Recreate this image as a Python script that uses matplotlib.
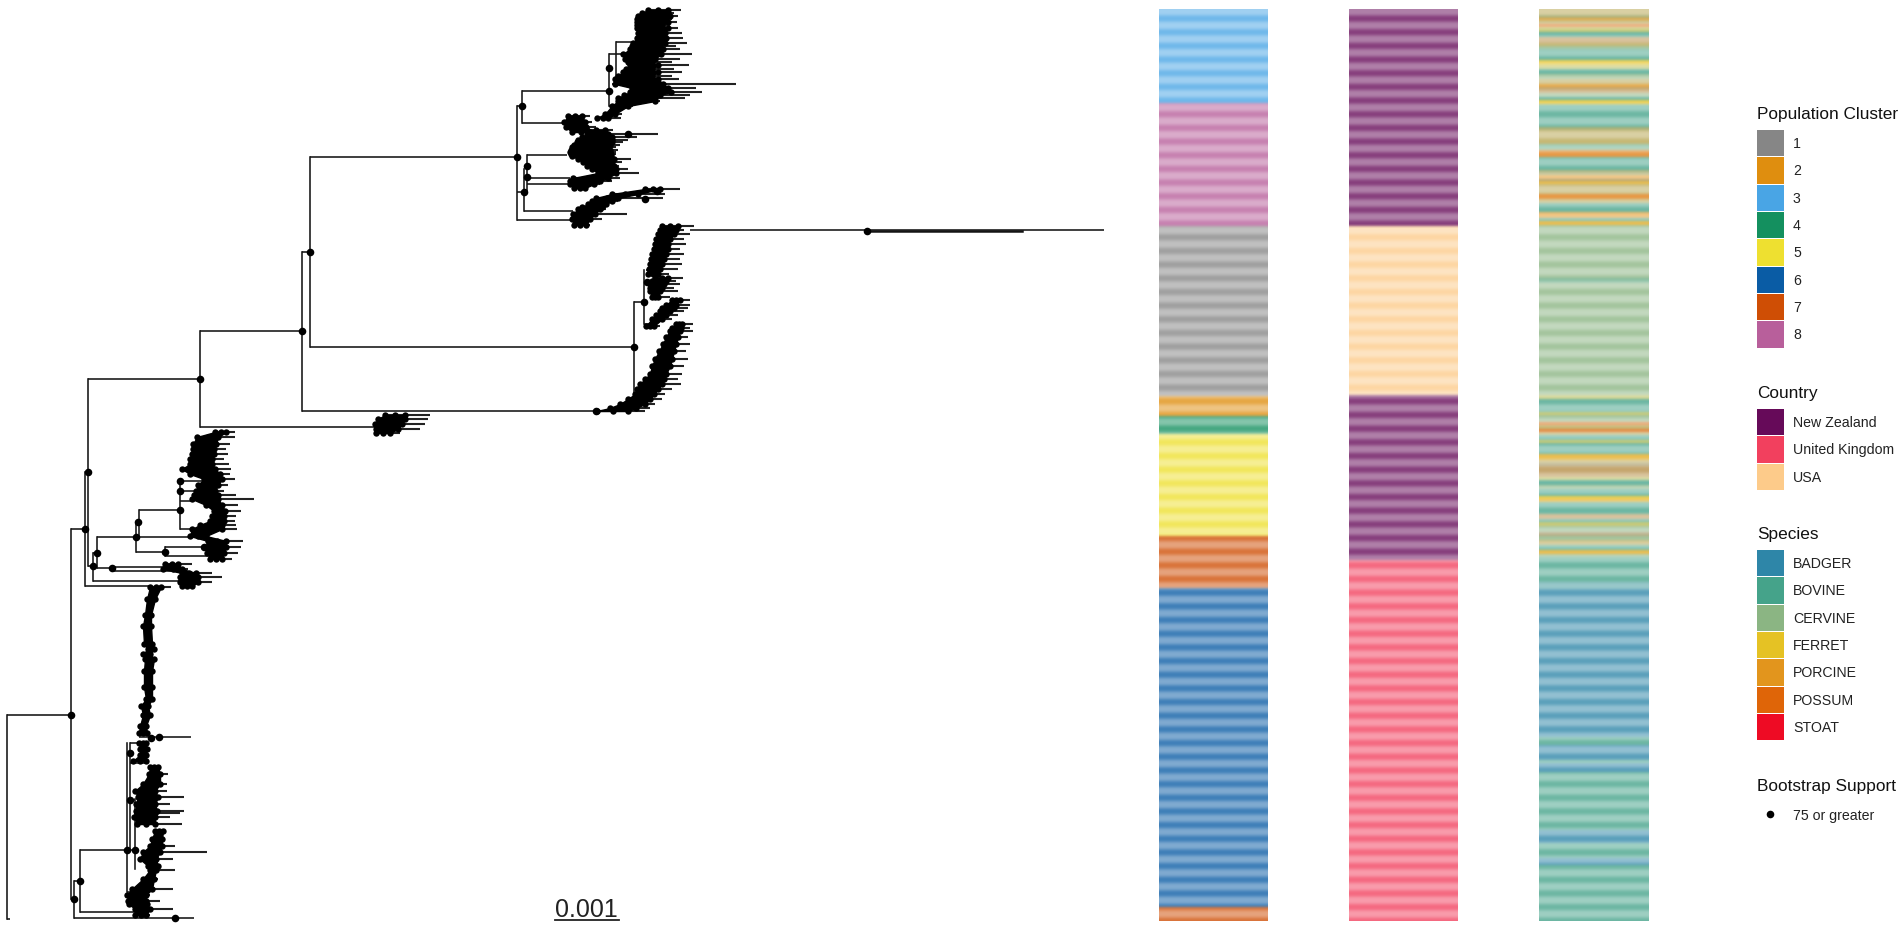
import numpy as np
from matplotlib import pyplot as plt
from matplotlib.patches import Rectangle

plt.rcParams['font.family'] = ['Liberation Sans', 'DejaVu Sans']

# Tree, in picture units (x grows with distance, y goes down)
H_BRANCHES = [
    (716, 7, 71), (530, 71, 85), (473, 85, 88), (380, 88, 200), (332, 200, 302),
    (428, 200, 376), (412, 302, 595), (253, 302, 310), (347.5, 310, 634),
    (303, 634, 644), (412, 634, 640), (157.7, 310, 517), (221, 517, 572),
    (107, 517, 522), (91.7, 522, 608), (123.7, 522, 566), (156, 527, 567),
    (179, 527, 570), (185, 527, 570), (212, 524, 573), (193, 517, 524),
    (231, 690, 1104), (567, 88, 92.6), (582, 92.6, 182), (554, 92.6, 97),
    (538, 97, 192), (569, 97, 112), (568, 112, 165), (572, 112, 181),
    (552.7, 136, 165), (548, 165, 204), (557, 165, 208), (523, 136, 139),
    (511, 139, 180), (530, 180, 192), (482, 180, 204), (492, 180, 204),
    (502, 180, 192), (587, 85, 150), (900, 71, 74), (919, 74, 194),
    (882, 74, 80), (913, 80, 139), (851, 80, 127), (851, 127, 135),
    (744, 130, 139), (738, 139, 191), (764, 130, 148), (893, 127, 132),
    (801, 130, 135), (920, 7, 10), (271, 646, 656), (283, 646, 650),
    (325, 644, 650), (55, 609, 625), (43, 616, 640), (85, 612, 618),
    (107, 609, 612),
]
V_BRANCHES = [
    (7, 716, 920), (71, 530, 900), (85, 473, 587), (88, 380, 567), (200, 332, 428),
    (302, 253, 412), (310, 157.7, 347.5), (634, 303, 412), (644, 271, 325),
    (517, 107, 221), (522, 91.7, 123.7), (527, 156, 193), (524, 170, 212),
    (92.6, 554, 582), (97, 538, 569), (112, 568, 572), (136, 523, 552.7),
    (165, 548, 557), (139, 511, 538), (180, 482, 530), (74, 882, 919),
    (80, 851, 913), (127, 744, 893), (130, 744, 851), (135, 800, 870),
    (609, 55, 107), (616, 43, 85),
]
NODES = [
    (71, 716), (85, 530), (88, 473), (200, 380), (302, 332), (310, 253),
    (517, 157.7), (522, 107), (527, 167), (527, 178), (524, 193), (634, 347.5),
    (644, 303), (647, 283), (867, 232), (596, 412), (92.6, 567), (97, 554),
    (112, 569), (136, 538), (138, 523), (165, 552.7), (180, 511), (180, 492),
    (180, 482), (204, 548), (74, 900), (80, 882), (175, 919), (127, 851),
    (135, 851), (130, 754), (130, 801), (151, 739), (159, 738), (609, 91.7),
    (609, 69), (628, 135), (657, 192), (645, 200),
]

# Clades: y, body left, body right, tip end
CLADE_TOP = [
    (11, 648, 668, 681), (14, 642, 668, 674), (17, 638, 670, 678), (20, 637, 666, 672),
    (23, 637, 668, 677), (26, 637, 662, 670), (29, 637, 668, 678), (34, 638, 665, 682),
    (39, 637, 666, 683), (44, 633, 665, 687), (47, 632, 660, 676), (50, 630, 663, 680),
    (55, 623, 661, 692), (60, 625, 655, 680), (63, 628, 652, 672), (66, 630, 658, 689),
    (70, 626, 652, 674), (73, 623, 658, 682), (77, 618, 652, 672), (80, 615, 658, 679),
    (85, 615, 663, 736), (89, 632, 668, 696), (93, 630, 671, 702), (96, 624, 660, 690),
    (99, 618, 655, 685), (102, 618, 655, 660), (107, 612, 628, 633), (115, 605, 615, 622),
    (119, 597, 608, 621),
]
CLADE_SMALL_A = [
    (117, 568, 582, 590), (123, 564, 585, 592), (128, 566, 586, 596), (133, 572, 590, 600),
]
CLADE_MID_A = [
    (131, 587, 605, 613), (135, 587, 608, 658), (138, 582, 612, 637), (141, 578, 612, 628),
    (143, 577, 612, 623), (146, 574, 610, 620), (148, 572, 608, 616), (151, 571, 610, 618),
    (153, 570, 610, 616), (155, 571, 611, 616), (157, 572, 611, 613), (160, 578, 614, 631),
    (163, 583, 612, 622), (167, 587, 614, 619), (170, 592, 616, 628), (174, 598, 616, 639),
    (179, 573, 608, 620), (182, 570, 600, 612), (185, 570, 594, 600), (189, 574, 585, 588),
]
CLADE_MID_B = [
    (190, 645, 660, 680), (195, 612, 638, 665), (199, 596, 618, 663), (202, 592, 612, 618),
    (205, 588, 606, 608), (208, 582, 602, 606), (210, 578, 600, 606), (215, 573, 595, 627),
    (220, 572, 590, 602), (226, 574, 586, 590),
]
CLADE_LONG_A = [
    (227, 662, 678, 694), (231, 660, 676, 684), (235, 658, 674, 690), (240, 656, 670, 684),
    (245, 655, 668, 686), (250, 654, 668, 680), (255, 652, 666, 684), (260, 651, 664, 680),
    (265, 650, 662, 682), (270, 649, 660, 678), (275, 648, 658, 669),
]
CLADE_LONG_B = [
    (279, 655, 668, 683), (282, 652, 666, 676), (285, 650, 664, 680), (289, 650, 662, 674),
    (292, 650, 660, 678), (298, 652, 658, 670),
]
CLADE_LONG_C = [
    (301, 672, 680, 690), (306, 666, 676, 690), (309, 662, 674, 688), (312, 660, 670, 684),
    (316, 656, 666, 678), (320, 652, 662, 672), (327, 646, 654, 660),
]
CLADE_LONG_D = [
    (325, 676, 682, 693), (329, 672, 681, 690), (332, 670, 680, 693), (338, 666, 678, 688),
    (345, 663, 676, 690), (352, 659, 674, 686), (360, 655, 672, 688), (367, 652, 670, 684),
    (375, 650, 666, 682), (380, 645, 664, 678), (385, 640, 662, 681), (390, 637, 658, 672),
    (395, 635, 654, 665), (400, 628, 650, 662), (405, 620, 645, 655), (409, 610, 636, 650),
    (412, 597, 628, 645),
]
CLADE_SMALL_B = [
    (416, 385, 405, 430), (420, 378, 405, 428), (425, 375, 402, 425), (430, 376, 398, 420),
    (434, 376, 390, 400),
]
CLADE_LEFT_A = [
    (433, 215, 226, 235), (438, 197, 218, 235), (445, 193, 216, 230), (450, 193, 214, 226),
    (455, 192, 214, 228), (460, 190, 212, 224), (465, 190, 212, 229), (470, 182, 215, 231),
    (475, 190, 220, 230), (480, 204, 222, 235), (486, 198, 218, 228), (492, 196, 215, 224),
    (496, 194, 218, 236), (500, 192, 218, 254), (506, 206, 222, 238), (512, 214, 225, 241),
    (517, 212, 224, 236), (522, 210, 224, 235), (526, 200, 222, 236), (530, 192, 222, 237),
    (537, 190, 206, 208), (542, 208, 226, 243), (548, 205, 226, 241), (554, 207, 224, 238),
    (560, 210, 222, 232),
]
CLADE_LEFT_B = [
    (565, 165, 178, 192), (570, 163, 182, 188), (574, 182, 196, 212), (578, 180, 198, 222),
    (583, 180, 198, 212), (587, 182, 192, 195),
]
CLADE_SPINE = [
    (588, 150, 161, 171), (600, 147, 155, 157), (616, 145, 151, 152), (627, 143, 151, 152),
    (645, 144, 152, 153), (650, 148, 154, 155), (655, 143, 150, 151), (660, 145, 154, 154),
    (672, 144, 152, 154), (688, 144, 152, 153), (700, 146, 152, 153), (707, 141, 148, 150),
    (716, 143, 150, 151), (727, 140, 146, 148), (734, 139, 147, 148),
]
CLADE_SHORT = [
    (744, 139, 146, 148), (750, 140, 147, 149), (756, 140, 146, 148), (762, 133, 146, 148),
]
CLADE_LOWER_A = [
    (768, 150, 158, 160), (775, 149, 160, 168), (785, 143, 160, 167), (792, 135, 155, 167),
    (798, 138, 158, 184), (805, 136, 155, 170), (812, 136, 157, 184), (814, 137, 155, 180),
    (818, 134, 155, 170), (825, 137, 155, 182),
]
CLADE_LOWER_B = [
    (832, 155, 163, 166), (840, 152, 162, 165), (847, 150, 162, 175), (853, 143, 160, 207),
    (860, 140, 156, 173), (867, 148, 158, 160), (871, 150, 156, 175), (880, 143, 154, 158),
    (890, 132, 152, 173), (896, 127, 146, 150), (902, 128, 146, 160), (905, 129, 147, 150),
    (910, 135, 150, 173), (916, 135, 146, 150),
]
CLADES = [
    CLADE_TOP, CLADE_SMALL_A, CLADE_MID_A, CLADE_MID_B, CLADE_LONG_A, CLADE_LONG_B,
    CLADE_LONG_C, CLADE_LONG_D, CLADE_SMALL_B, CLADE_LEFT_A, CLADE_LEFT_B, CLADE_SPINE,
    CLADE_SHORT, CLADE_LOWER_A, CLADE_LOWER_B,
]

# Annotation strips: (category, end of the block)
STRIP_TOP = 9
STRIP_BOTTOM = 921
CLUSTER_BLOCKS = [
    ('3', 103), ('8', 226), ('1', 396), ('2', 416), ('4', 433.5), ('5', 535.5),
    ('7', 588), ('6', 907), ('7', 921),
]
COUNTRY_BLOCKS = [('NZ', 226), ('USA', 395), ('NZ', 560), ('UK', 921)]
# two letters mean rows too thin to tell apart
SPECIES_BLOCKS = [
    ('PC', 15), ('VP', 17.7), ('P', 20), ('PC', 23.3), ('O', 26.7), ('FC', 28.3), ('CF', 31.7),
    ('V', 36.7), ('CO', 42.3), ('CP', 45.7), ('C', 48.3), ('V', 60), ('F', 64.3), ('FC', 68.3),
    ('V', 73.3), ('C', 78.3), ('PC', 83.3), ('P', 86.7), ('CO', 92.3), ('C', 96.7), ('V', 99.3),
    ('F', 103.3), ('C', 105), ('V', 126.7), ('VP', 130), ('PC', 136.7), ('CP', 143.3),
    ('VC', 150), ('OP', 156.7), ('V', 170), ('VP', 175), ('P', 178.3), ('VO', 181), ('FP', 183.3),
    ('PC', 193.3), ('OP', 198.3), ('PC', 202.3), ('V', 211.7), ('P', 217.7), ('V', 221),
    ('FP', 224.3), ('C', 278), ('VC', 283), ('C', 394.3), ('CF', 398.3), ('V', 411.7), ('CF', 415),
    ('C', 421.7), ('O', 425), ('PC', 428.3), ('O', 431.7), ('PC', 435), ('V', 440), ('FC', 442.7),
    ('V', 453.3), ('FP', 459.3), ('PC', 462.7), ('OV', 466), ('CO', 476.7), ('CF', 480), ('V', 485),
    ('C', 488.3), ('V', 496), ('F', 498.3), ('FP', 501.7), ('V', 513.3), ('CO', 518.3), ('V', 521.7),
    ('FC', 525.7), ('C', 531.7), ('VO', 535.7), ('C', 540), ('PC', 545), ('V', 550), ('FP', 554),
    ('C', 556.7), ('V', 582), ('VB', 589), ('B', 736.7), ('V', 745), ('B', 760), ('V', 763),
    ('B', 772), ('V', 830), ('B', 843), ('V', 858), ('B', 865), ('V', 921),
]

CLUSTER_LABELS = ['1', '2', '3', '4', '5', '6', '7', '8']
CLUSTER_COLORS = ['#868686', '#DF8E0F', '#49A5E5', '#14905F', '#EEE030', '#0A5CA5', '#CF4E05', '#B85F9B']
COUNTRY_LABELS = ['New Zealand', 'United Kingdom', 'USA']
COUNTRY_KEYS = ['NZ', 'UK', 'USA']
COUNTRY_COLORS = ['#660A59', '#F2405E', '#FDCB8A']
SPECIES_LABELS = ['BADGER', 'BOVINE', 'CERVINE', 'FERRET', 'PORCINE', 'POSSUM', 'STOAT']
SPECIES_KEYS = ['B', 'V', 'C', 'F', 'P', 'O', 'S']
SPECIES_COLORS = ['#2E86A8', '#45A38A', '#8BB583', '#E5C224', '#E2951D', '#DF6508', '#EE0B24']


def to_rgb(c):
    return np.array([int(c[i:i+2], 16) / 255 for i in (1, 3, 5)])


def strip_image(blocks, palette):
    # one row per pixel, with the banding the printed strips show
    rows = np.arange(STRIP_TOP, STRIP_BOTTOM)
    img = np.ones((len(rows), 1, 3))
    start = STRIP_TOP
    for key, end in blocks:
        parts = [to_rgb(palette[k]) for k in ([key] if key in palette else list(key))]
        img[(rows >= start) & (rows < end), 0] = np.mean(parts, axis=0)
        start = end
    phase = (rows - 31.7) % 13.67 / 13.67
    a = np.interp(phase, [0, .14, .34, .66, .86, 1], [.8, .76, .52, .52, .76, .8])[:, None, None]
    img = a * img + (1 - a)
    kernel = np.array([1, 2, 3, 2, 1]) / 9
    pad = np.concatenate([img[:1], img[:1], img, img[-1:], img[-1:]])
    for i in range(3):
        img[:, 0, i] = np.convolve(pad[:, 0, i], kernel, mode='valid')
    return img


fig = plt.figure(figsize=(19.02, 9.28), dpi=100)
ax = fig.add_axes([0, 0, 1, 1])
ink = '#141414'

for y, x0, x1 in H_BRANCHES:
    ax.plot([x0, x1], [y, y], color=ink, lw=1.15, solid_capstyle='butt', zorder=2)
for x, y0, y1 in V_BRANCHES:
    ax.plot([x, x], [y0, y1], color=ink, lw=1.15, solid_capstyle='projecting', zorder=2)
ax.plot([867, 1022], [232, 232], color=ink, lw=1.8, zorder=2)

for clade in CLADES:
    ys, lefts, bodies, tips = zip(*clade)
    ax.fill_betweenx(ys, lefts, bodies, color='black', lw=1, zorder=3)
    for y, left, body, tip in clade:
        ax.plot([left, tip], [y, y], color='#222222', lw=1.5, solid_capstyle='butt', zorder=2)
        ax.plot([left, (left + body) / 2, body], [y, y, y], 'o', color='black', ms=4.6, mew=0, zorder=4)

nx, ny = zip(*NODES)
ax.scatter(nx, ny, s=30, color='black', linewidths=0, zorder=5)

# scale bar
ax.text(586.5, 917, '0.001', fontsize=18, ha='center', va='baseline', color='#222222')
ax.plot([555, 619], [921, 921], color='#222222', lw=1.3)

# strips
cluster_palette = dict(zip(CLUSTER_LABELS, CLUSTER_COLORS))
country_palette = dict(zip(COUNTRY_KEYS, COUNTRY_COLORS))
species_palette = dict(zip(SPECIES_KEYS, SPECIES_COLORS))
ax.imshow(strip_image(CLUSTER_BLOCKS, cluster_palette), extent=(1159, 1268, STRIP_BOTTOM + 1, STRIP_TOP + 1),
          aspect='auto', interpolation='bilinear', zorder=1)
ax.imshow(strip_image(COUNTRY_BLOCKS, country_palette), extent=(1349, 1458, STRIP_BOTTOM + 1, STRIP_TOP + 1),
          aspect='auto', interpolation='bilinear', zorder=1)
ax.imshow(strip_image(SPECIES_BLOCKS, species_palette), extent=(1539, 1649, STRIP_BOTTOM + 1, STRIP_TOP + 1),
          aspect='auto', interpolation='bilinear', zorder=1)


# legends
def legend_block(title, title_y, top, labels, colors):
    ax.text(1757, title_y, title, fontsize=12.4, va='center', ha='left', color='#111111')
    for i, (lab, col) in enumerate(zip(labels, colors)):
        y = top + i * 27.35
        ax.add_patch(Rectangle((1757, y + 0.5), 26.5, 26.3, facecolor=col, edgecolor='none'))
        ax.text(1793, y + 13.5, lab, fontsize=10.2, va='center', ha='left', color='#222222')


legend_block('Population Cluster', 114.5, 130.5, CLUSTER_LABELS, CLUSTER_COLORS)
legend_block('Country', 393.5, 409.5, COUNTRY_LABELS, COUNTRY_COLORS)
legend_block('Species', 534.5, 550.5, SPECIES_LABELS, SPECIES_COLORS)
ax.text(1757, 786.5, 'Bootstrap Support', fontsize=12.4, va='center', ha='left', color='#111111')
ax.scatter([1770], [815], s=30, color='black', linewidths=0)
ax.text(1793, 816, '75 or greater', fontsize=10.2, va='center', ha='left', color='#222222')

ax.set_xlim(0, 1902)
ax.set_ylim(928, 0)
ax.axis('off')
fig.savefig('out.png', dpi=100)
